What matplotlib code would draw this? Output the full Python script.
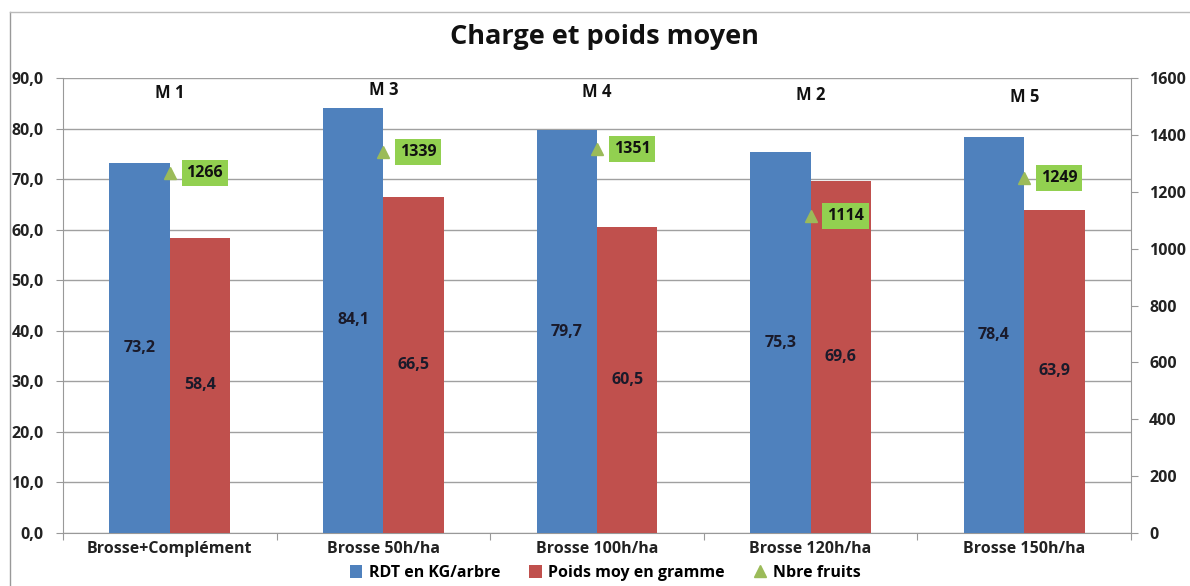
import matplotlib
matplotlib.use("Agg")
import matplotlib.pyplot as plt
import numpy as np

categories = ["Brosse+Complément", "Brosse 50h/ha", "Brosse 100h/ha", "Brosse 120h/ha", "Brosse 150h/ha"]
rdt = [73.2, 84.1, 79.7, 75.3, 78.4]
poids = [58.4, 66.5, 60.5, 69.6, 63.9]
nbre = [1266, 1339, 1351, 1114, 1249]
m_labels = ["M 1", "M 3", "M 4", "M 2", "M 5"]
m_label_y = [87.0, 87.6, 87.2, 86.6, 86.2]

plt.rcParams['font.family'] = ['Open Sans', 'DejaVu Sans']
fig = plt.figure(figsize=(11.9, 5.86), dpi=100)
ax = fig.add_axes([63/1190, 53/586, (1131-63)/1190, (533-78)/586])
ax2 = ax.twinx()

blue = '#4F81BD'
red = '#C0504D'
green = '#9BBB59'
fs = 11.5
x = np.arange(len(categories))
w = 0.283
ax.bar(x - w/2, rdt, w, color=blue, zorder=3)
ax.bar(x + w/2, poids, w, color=red, zorder=3)

ax.set_xlim(-0.5, len(categories) - 0.5)
ax.set_ylim(0, 90)
ax.set_yticks(np.arange(0, 91, 10))
ax.set_yticklabels([f"{v:.1f}".replace('.', ',') for v in np.arange(0, 91, 10)],
                   fontsize=fs, fontweight='bold', color='#222222')
ax.yaxis.grid(True, color='#A0A0A0', linewidth=1, zorder=0)
ax.set_axisbelow(True)
ax.set_xticks(np.arange(-0.5, len(categories), 1))
ax.set_xticklabels([])
ax.set_xticks(x, minor=True)
ax.set_xticklabels(categories, minor=True, fontsize=fs, fontweight='bold', color='#222222')
ax.tick_params(axis='x', which='minor', length=0, pad=6)
ax.tick_params(axis='x', which='major', length=5, color='#999999', direction='out')
ax.tick_params(axis='y', length=5, color='#999999', pad=9)
for s in ['top', 'right']:
    ax.spines[s].set_visible(False)
ax.spines['left'].set_color('#999999')
ax.spines['bottom'].set_color('#999999')

for xi, v in zip(x, rdt):
    ax.text(xi - w/2, v/2, f"{v:.1f}".replace('.', ','), ha='center', va='center',
            fontsize=fs, fontweight='bold', color='#1a1a2a', zorder=5)
for xi, v in zip(x, poids):
    ax.text(xi + w/2, v/2, f"{v:.1f}".replace('.', ','), ha='center', va='center',
            fontsize=fs, fontweight='bold', color='#1a1a2a', zorder=5)
for xi, lab, ly in zip(x, m_labels, m_label_y):
    ax.text(xi, ly, lab, ha='center', va='center', fontsize=12, fontweight='bold', color='#111111')

ax2.set_ylim(0, 1600)
ax2.set_yticks(np.arange(0, 1601, 200))
ax2.set_yticklabels([str(v) for v in range(0, 1601, 200)], fontsize=fs, fontweight='bold', color='#222222')
ax2.tick_params(axis='y', length=5, color='#999999', pad=8)
for s in ['top', 'left', 'bottom']:
    ax2.spines[s].set_visible(False)
ax2.spines['right'].set_color('#999999')
ax2.plot(x, nbre, linestyle='none', marker='^', markersize=9, color=green, zorder=6)
for xi, v in zip(x, nbre):
    ax2.annotate(str(v), (xi, v), xytext=(12, 0), textcoords='offset points', ha='left', va='center',
                 fontsize=fs, fontweight='bold', color='#111111',
                 bbox=dict(boxstyle='square,pad=0.3', facecolor='#92D050', edgecolor='none'))

fig.text(604/1190, 1 - 37/586, "Charge et poids moyen", ha='center', va='center',
         fontsize=19.5, fontweight='bold', color='#111111')

from matplotlib.patches import Patch
from matplotlib.lines import Line2D
handles = [Patch(facecolor=blue), Patch(facecolor=red),
           Line2D([], [], linestyle='none', marker='^', color=green, markersize=8)]
fig.legend(handles, ["RDT en KG/arbre", "Poids moy en gramme", "Nbre fruits"],
           loc='center', bbox_to_anchor=(605/1190, 1 - 573/586), ncol=3, frameon=False,
           prop={'size': fs, 'weight': 'bold'}, handlelength=0.8, handleheight=0.8,
           handletextpad=0.4, columnspacing=1.8)

fig.add_artist(plt.Line2D([10/1190, 10/1190], [0, 1 - 12/586], transform=fig.transFigure, color='#999999', lw=1))
fig.add_artist(plt.Line2D([10/1190, 1], [1 - 12/586, 1 - 12/586], transform=fig.transFigure, color='#BBBBBB', lw=1))

fig.savefig("out.png", dpi=100)
